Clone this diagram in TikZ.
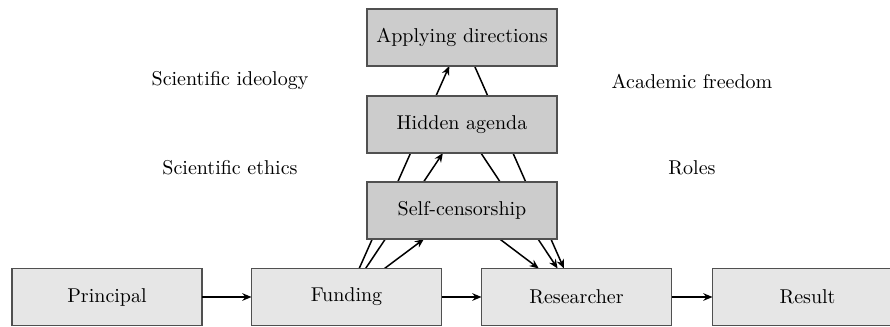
\documentclass[tikz,border=0pt]{standalone}
\usetikzlibrary{arrows.meta}
\pgfdeclarelayer{background}
\pgfsetlayers{background,main}
\definecolor{boxdark}{HTML}{CCCCCC}
\definecolor{boxlight}{HTML}{E6E6E6}
\definecolor{boxline}{HTML}{505050}
\begin{document}
\begin{tikzpicture}[x=0.5pt,y=-0.5pt,
  box/.style={draw=boxline,line width=0.75pt,minimum width=95pt,minimum height=28.5pt,inner sep=0pt,outer sep=0pt},
  upper/.style={box,fill=boxdark},
  lower/.style={box,fill=boxlight},
  flow/.style={line width=0.75pt,-{Stealth[length=4.6pt,width=3.8pt]}},
  tag/.style={inner sep=0pt}]
\useasboundingbox (0,0) rectangle (890,327);

% main chain
\node[lower] (principal)  at (107,297)   {Principal};
\node[lower] (funding)    at (346.5,297) {Funding};
\node[lower] (researcher) at (576.5,297) {Researcher};
\node[lower] (result)     at (807.5,297) {Result};

% influence stack
\node[upper] (applying) at (462,37.5)  {Applying directions};
\node[upper] (hidden)   at (462,124.5) {Hidden agenda};
\node[upper] (selfcens) at (462,210.5) {Self-censorship};

% surrounding notions
\node[tag] (ideology) at (230,81)    {Scientific ideology};
\node[tag] (ethics)   at (230,167.5) {Scientific ethics};
\node[tag] (freedom)  at (692,81)    {Academic freedom};
\node[tag] (roles)    at (692,167.5) {Roles};

% horizontal flow
\draw[flow] (principal) -- (funding);
\draw[flow] (funding) -- (researcher);
\draw[flow] (researcher) -- (result);

% diagonal links run behind the boxes
\begin{pgfonlayer}{background}
\draw[flow] (funding) -- (selfcens);
\draw[flow] (funding) -- (hidden);
\draw[flow] (funding) -- (applying);
\draw[flow] (selfcens) -- (researcher);
\draw[flow] (hidden) -- (researcher);
\draw[flow] (applying) -- (researcher);
\end{pgfonlayer}
\end{tikzpicture}
\end{document}
